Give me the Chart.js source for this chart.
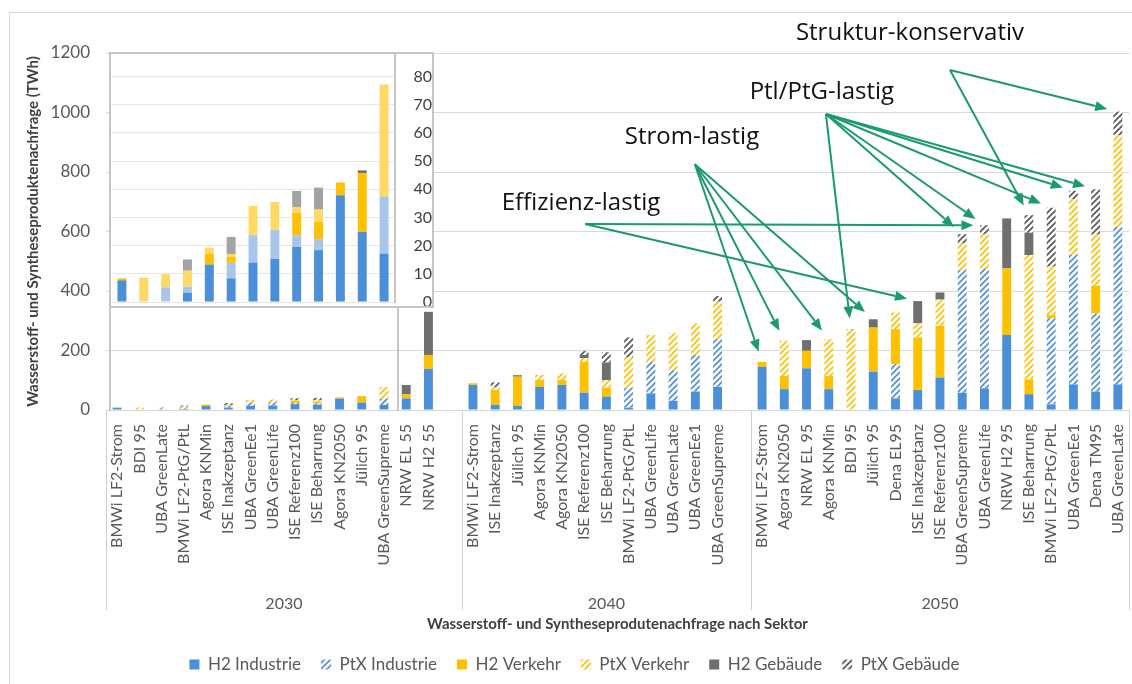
<!DOCTYPE html>
<html>
<head>
<meta charset="utf-8">
<script src="https://cdn.jsdelivr.net/npm/chart.js@4.4.1/dist/chart.umd.min.js"></script>
<style>
  html, body { margin: 0; padding: 0; background: #fff; }
  #wrap { position: relative; width: 1132px; height: 684px; overflow: hidden; }
  #main { position: absolute; left: 0; top: 0; }
  #frame { position: absolute; left: 9px; top: 12px; width: 1140px; height: 700px; border: 1px solid #d9d9d9; box-sizing: border-box; pointer-events: none; }
  #inset { position: absolute; left: 109px; top: 52px; width: 325px; height: 256px; background: #fff; border: 2px solid #c6c6c6; box-sizing: border-box; overflow: hidden; }
  #inset canvas { position: absolute; left: 0; top: 0; }
  #lowbox { position: absolute; left: 109px; top: 306px; width: 290px; height: 105px; border-left: 2px solid #c6c6c6; border-right: 2px solid #c6c6c6; box-sizing: border-box; pointer-events: none; }
</style>
</head>
<body>
<div id="wrap">
  <div id="frame"></div>
  <canvas id="main" width="1132" height="684"></canvas>
  <div id="lowbox"></div>
  <div id="inset"><canvas id="insetChart" width="321" height="252"></canvas></div>
</div>
<script>
// ========== CATEGORIES ==========
const cat2030 = ['BMWi LF2-Strom', 'BDI 95', 'UBA GreenLate', 'BMWi LF2-PtG/PtL', 'Agora KNMin', 'ISE Inakzeptanz',
  'UBA GreenEe1', 'UBA GreenLife', 'ISE Referenz100', 'ISE Beharrung', 'Agora KN2050', 'Jülich 95',
  'UBA GreenSupreme', 'NRW EL 55', 'NRW H2 55'];
const cat2040 = ['BMWi LF2-Strom', 'ISE Inakzeptanz', 'Jülich 95', 'Agora KNMin', 'Agora KN2050', 'ISE Referenz100',
  'ISE Beharrung', 'BMWi LF2-PtG/PtL', 'UBA GreenLife', 'UBA GreenLate', 'UBA GreenEe1', 'UBA GreenSupreme'];
const cat2050 = ['BMWi LF2-Strom', 'Agora KN2050', 'NRW EL 95', 'Agora KNMin', 'BDI 95', 'Jülich 95', 'Dena EL95',
  'ISE Inakzeptanz', 'ISE Referenz100', 'UBA GreenSupreme', 'UBA GreenLife', 'NRW H2 95', 'ISE Beharrung',
  'BMWi LF2-PtG/PtL', 'UBA GreenEe1', 'Dena TM95', 'UBA GreenLate'];
const years = ['2030', '2040', '2050'];
const seriesNames = ['H2 Industrie', 'PtX Industrie', 'H2 Verkehr', 'PtX Verkehr', 'H2 Gebäude', 'PtX Gebäude'];

// ========== VALUES (TWh) ==========
const h2Ind2030   = [7.7, 0, 0, 3.3, 13.3, 8.4, 14.0, 15.3, 19.6, 18.4, 37.9, 24.9, 17.2, 39, 138];
const ptxInd2030  = [0, 0, 5.2, 2.1, 0, 5.5, 9.7, 10.2, 4.1, 3.9, 0, 0, 20.1, 0, 0];
const h2Verk2030  = [0.7, 0, 0, 0, 3.9, 2.1, 0, 0, 7.9, 6.1, 4.5, 20.9, 0, 14, 47];
const ptxVerk2030 = [0, 8.7, 4.7, 5.7, 2.1, 1.0, 10.4, 10.0, 2.1, 4.4, 0, 0, 39.9, 0, 0];
const h2Geb2030   = [0, 0, 0, 0, 0, 0, 0, 0, 0, 0, 0, 0.9, 0, 31, 145];
const ptxGeb2030  = [0, 0, 0, 4.0, 0, 6.1, 0, 0, 5.7, 7.8, 0, 0, 0, 0, 0];

const h2Ind2040   = [84, 17, 14, 78, 84, 58, 45, 8, 56, 31, 62, 78];
const ptxInd2040  = [0, 0, 0, 0, 0, 0, 0, 67, 106, 103, 123, 160];
const h2Verk2040  = [6, 50, 98, 23, 17, 104, 30, 0, 0, 0, 0, 0];
const ptxVerk2040 = [0, 9, 0, 17, 22, 12, 25, 102, 90, 124, 106, 126];
const h2Geb2040   = [0, 0, 5, 0, 0, 11, 60, 0, 0, 0, 0, 0];
const ptxGeb2040  = [0, 17, 0, 0, 0, 13, 34, 67, 0, 0, 0, 19];

const h2Ind2050   = [145, 70, 140, 70, 0, 129, 39, 67, 109, 58, 73, 252, 53, 19, 86, 62, 86];
const ptxInd2050  = [0, 0, 0, 0, 0, 0, 115, 0, 0, 412, 403, 0, 0, 289, 435, 263, 530];
const h2Verk2050  = [17, 44, 59, 44, 0, 148, 118, 177, 174, 0, 0, 224, 50, 11, 0, 93, 0];
const ptxVerk2050 = [0, 119, 0, 124, 268, 0, 56, 47, 88, 90, 115, 0, 418, 163, 187, 172, 308];
const h2Geb2050   = [0, 0, 36, 0, 0, 28, 0, 75, 24, 0, 0, 168, 75, 0, 0, 0, 0];
const ptxGeb2050  = [0, 0, 0, 0, 3, 0, 0, 0, 0, 31, 30, 0, 59, 198, 29, 152, 79];

// inset zoom: 2030 scenarios without the NRW ones
const insetCount = 13;

// ========== ANNOTATIONS (slot index, TWh) ==========
const noteLabels  = ['Struktur-konservativ', 'Ptl/PtG-lastig', 'Strom-lastig', 'Effizienz-lastig'];
const noteTextAt  = [[35.65, 1267], [31.69, 1069], [25.85, 918], [20.86, 696]];
const noteFrom    = [[37.45, 1143], [31.87, 995], [25.98, 826], [21.04, 625]];
const noteTargets = [
  ['UBA GreenLate', 'ISE Beharrung'],
  ['BDI 95', 'UBA GreenSupreme', 'UBA GreenLife', 'BMWi LF2-PtG/PtL', 'UBA GreenEe1', 'Dena TM95'],
  ['BMWi LF2-Strom', 'Agora KN2050', 'Agora KNMin', 'Jülich 95'],
  ['UBA GreenLife', 'ISE Inakzeptanz']
];

// ========== STYLE HELPERS ==========
const FONT = 'Lato';
const BLUE = '#4b8fd8', ORANGE = '#ffc000', GRAY = '#6f6f6f';

function hatch(color) {
  const c = document.createElement('canvas');
  c.width = 6; c.height = 6;
  const g = c.getContext('2d');
  g.fillStyle = '#fff';
  g.fillRect(0, 0, 6, 6);
  g.strokeStyle = color;
  g.lineWidth = 1.6;
  g.beginPath();
  g.moveTo(-1, 7); g.lineTo(7, -1);
  g.moveTo(-4, 4); g.lineTo(4, -4);
  g.moveTo(2, 10); g.lineTo(10, 2);
  g.stroke();
  return g.createPattern(c, 'repeat');
}

const mainColors = [BLUE, hatch('#4b8fd8'), ORANGE, hatch('#ffc000'), GRAY, hatch('#555555')];
const insetColors = [BLUE, '#a8c6ea', ORANGE, '#ffd966', GRAY, '#a3a3a3'];

// ========== BUILD SLOTS (empty slot closes 2030 and 2040) ==========
const slotLabels = [...cat2030, '', ...cat2040, '', ...cat2050];
const join = (a, b, c) => [...a, null, ...b, null, ...c];
const seriesData = [
  join(h2Ind2030, h2Ind2040, h2Ind2050),
  join(ptxInd2030, ptxInd2040, ptxInd2050),
  join(h2Verk2030, h2Verk2040, h2Verk2050),
  join(ptxVerk2030, ptxVerk2040, ptxVerk2050),
  join(h2Geb2030, h2Geb2040, h2Geb2050),
  join(ptxGeb2030, ptxGeb2040, ptxGeb2050)
];
const groupSizes = [cat2030.length + 1, cat2040.length + 1, cat2050.length];
const start2050 = groupSizes[0] + groupSizes[1];

function top2050(name) {
  const i = cat2050.indexOf(name);
  const total = [h2Ind2050, ptxInd2050, h2Verk2050, ptxVerk2050, h2Geb2050, ptxGeb2050]
    .reduce((s, arr) => s + arr[i], 0);
  return [start2050 + i, total];
}

// ========== OVERLAY: group labels, separators, arrows ==========
function drawArrow(ctx, x0, y0, x1, y1) {
  const dx = x1 - x0, dy = y1 - y0, len = Math.hypot(dx, dy);
  const ux = dx / len, uy = dy / len;
  const tx = x1 - ux * 11, ty = y1 - uy * 11;
  const bx = tx - ux * 12, by = ty - uy * 12;
  ctx.beginPath(); ctx.moveTo(x0, y0); ctx.lineTo(bx, by); ctx.stroke();
  ctx.beginPath();
  ctx.moveTo(tx, ty);
  ctx.lineTo(bx - uy * 5, by + ux * 5);
  ctx.lineTo(bx + uy * 5, by - ux * 5);
  ctx.closePath(); ctx.fill();
}

const overlay = {
  id: 'overlay',
  afterDraw(chart) {
    const { ctx, chartArea: a, scales: { x, y } } = chart;
    ctx.save();

    // year groups under the category labels
    ctx.strokeStyle = '#d0d0d0';
    ctx.lineWidth = 1;
    ctx.fillStyle = '#595959';
    ctx.font = '16px ' + FONT;
    ctx.textAlign = 'center';
    ctx.textBaseline = 'middle';
    let first = 0;
    const edges = [x.getPixelForValue(-0.5)];
    groupSizes.forEach((n, g) => {
      const left = x.getPixelForValue(first - 0.5);
      const right = x.getPixelForValue(first + n - 0.5);
      edges.push(right);
      ctx.fillText(years[g], (left + right) / 2, a.bottom + 194);
      first += n;
    });
    edges.forEach(px => {
      ctx.beginPath();
      ctx.moveTo(Math.round(px) + 0.5, a.bottom);
      ctx.lineTo(Math.round(px) + 0.5, a.bottom + 200);
      ctx.stroke();
    });

    // annotation arrows
    ctx.strokeStyle = '#1b9a6c';
    ctx.fillStyle = '#1b9a6c';
    ctx.lineWidth = 2;
    noteTargets.forEach((targets, k) => {
      const x0 = x.getPixelForValue(noteFrom[k][0]);
      const y0 = y.getPixelForValue(noteFrom[k][1]);
      targets.forEach(name => {
        const [idx, total] = top2050(name);
        drawArrow(ctx, x0, y0, x.getPixelForValue(idx), y.getPixelForValue(total));
      });
    });

    // annotation labels
    ctx.fillStyle = '#111';
    ctx.font = '24px "Open Sans"';
    noteLabels.forEach((t, k) => {
      ctx.fillText(t, x.getPixelForValue(noteTextAt[k][0]), y.getPixelForValue(noteTextAt[k][1]));
    });
    ctx.restore();
  }
};

// ========== MAIN CHART ==========
const mainChart = new Chart(document.getElementById('main'), {
  type: 'bar',
  data: {
    labels: slotLabels,
    datasets: seriesNames.map((name, i) => ({
      label: name,
      data: seriesData[i],
      backgroundColor: mainColors[i],
      borderWidth: 0,
      barPercentage: 0.4,
      categoryPercentage: 1
    }))
  },
  options: {
    responsive: false,
    animation: false,
    layout: { padding: { left: 20, right: 3, top: 53, bottom: 1 } },
    plugins: {
      tooltip: { enabled: false },
      legend: {
        position: 'bottom',
        labels: {
          boxWidth: 10,
          boxHeight: 10,
          padding: 20,
          color: '#595959',
          font: { family: FONT, size: 17 }
        }
      }
    },
    scales: {
      x: {
        stacked: true,
        grid: { display: false },
        border: { display: true, color: '#d9d9d9' },
        ticks: {
          autoSkip: false,
          minRotation: 90,
          maxRotation: 90,
          padding: 6,
          color: '#595959',
          font: { family: FONT, size: 16 }
        },
        title: {
          display: true,
          text: 'Wasserstoff- und Syntheseprodutenachfrage nach Sektor',
          color: '#404040',
          font: { family: FONT, size: 15, weight: 'bold' },
          padding: { top: 4, bottom: 3 }
        },
        afterFit: s => {
          const legendH = s.chart.legend ? s.chart.legend.height : 0;
          s.height = s.chart.height - 410 - 1 - legendH;
          s.paddingLeft = 0;
          s.paddingRight = 0;
        }
      },
      y: {
        stacked: true,
        min: 0,
        max: 1200,
        ticks: {
          stepSize: 200,
          padding: 16,
          color: '#595959',
          font: { family: FONT, size: 17 },
          callback: v => String(v)
        },
        grid: { color: '#d9d9d9', drawTicks: false },
        border: { display: false },
        title: {
          display: true,
          text: 'Wasserstoff- und Syntheseproduktenachfrage (TWh)',
          color: '#404040',
          font: { family: FONT, size: 15, weight: 'bold' },
          padding: { top: 4, bottom: 0 }
        },
        afterFit: s => { s.width = 86; }
      }
    }
  },
  plugins: [overlay]
});

// ========== INSET CHART (2030 zoom) ==========
const insetSeries = [h2Ind2030, ptxInd2030, h2Verk2030, ptxVerk2030, h2Geb2030, ptxGeb2030];
const insetChart = new Chart(document.getElementById('insetChart'), {
  type: 'bar',
  data: {
    labels: cat2030.slice(0, insetCount),
    datasets: seriesNames.map((name, i) => ({
      label: name,
      data: insetSeries[i].slice(0, insetCount),
      backgroundColor: insetColors[i],
      borderWidth: 0,
      barPercentage: 0.41,
      categoryPercentage: 1
    }))
  },
  options: {
    responsive: false,
    animation: false,
    layout: { padding: { left: 0, right: 0, top: 0, bottom: 4 } },
    plugins: { legend: { display: false }, tooltip: { enabled: false } },
    scales: {
      x: { stacked: true, display: false },
      y: {
        stacked: true,
        position: 'right',
        min: 0,
        max: 88,
        afterBuildTicks: s => { s.ticks = s.ticks.filter(t => t.value % 10 === 0); },
        ticks: {
          stepSize: 10,
          padding: 8,
          crossAlign: 'far',
          color: '#404040',
          font: { family: FONT, size: 16 }
        },
        grid: { color: '#e6e6e6', drawTicks: false },
        border: { display: true, color: '#c6c6c6', width: 2 },
        afterFit: s => {
          s.width = 37;
          s.paddingTop = 0;
          s.paddingBottom = 0;
        }
      }
    }
  }
});
</script>
</body>
</html>
